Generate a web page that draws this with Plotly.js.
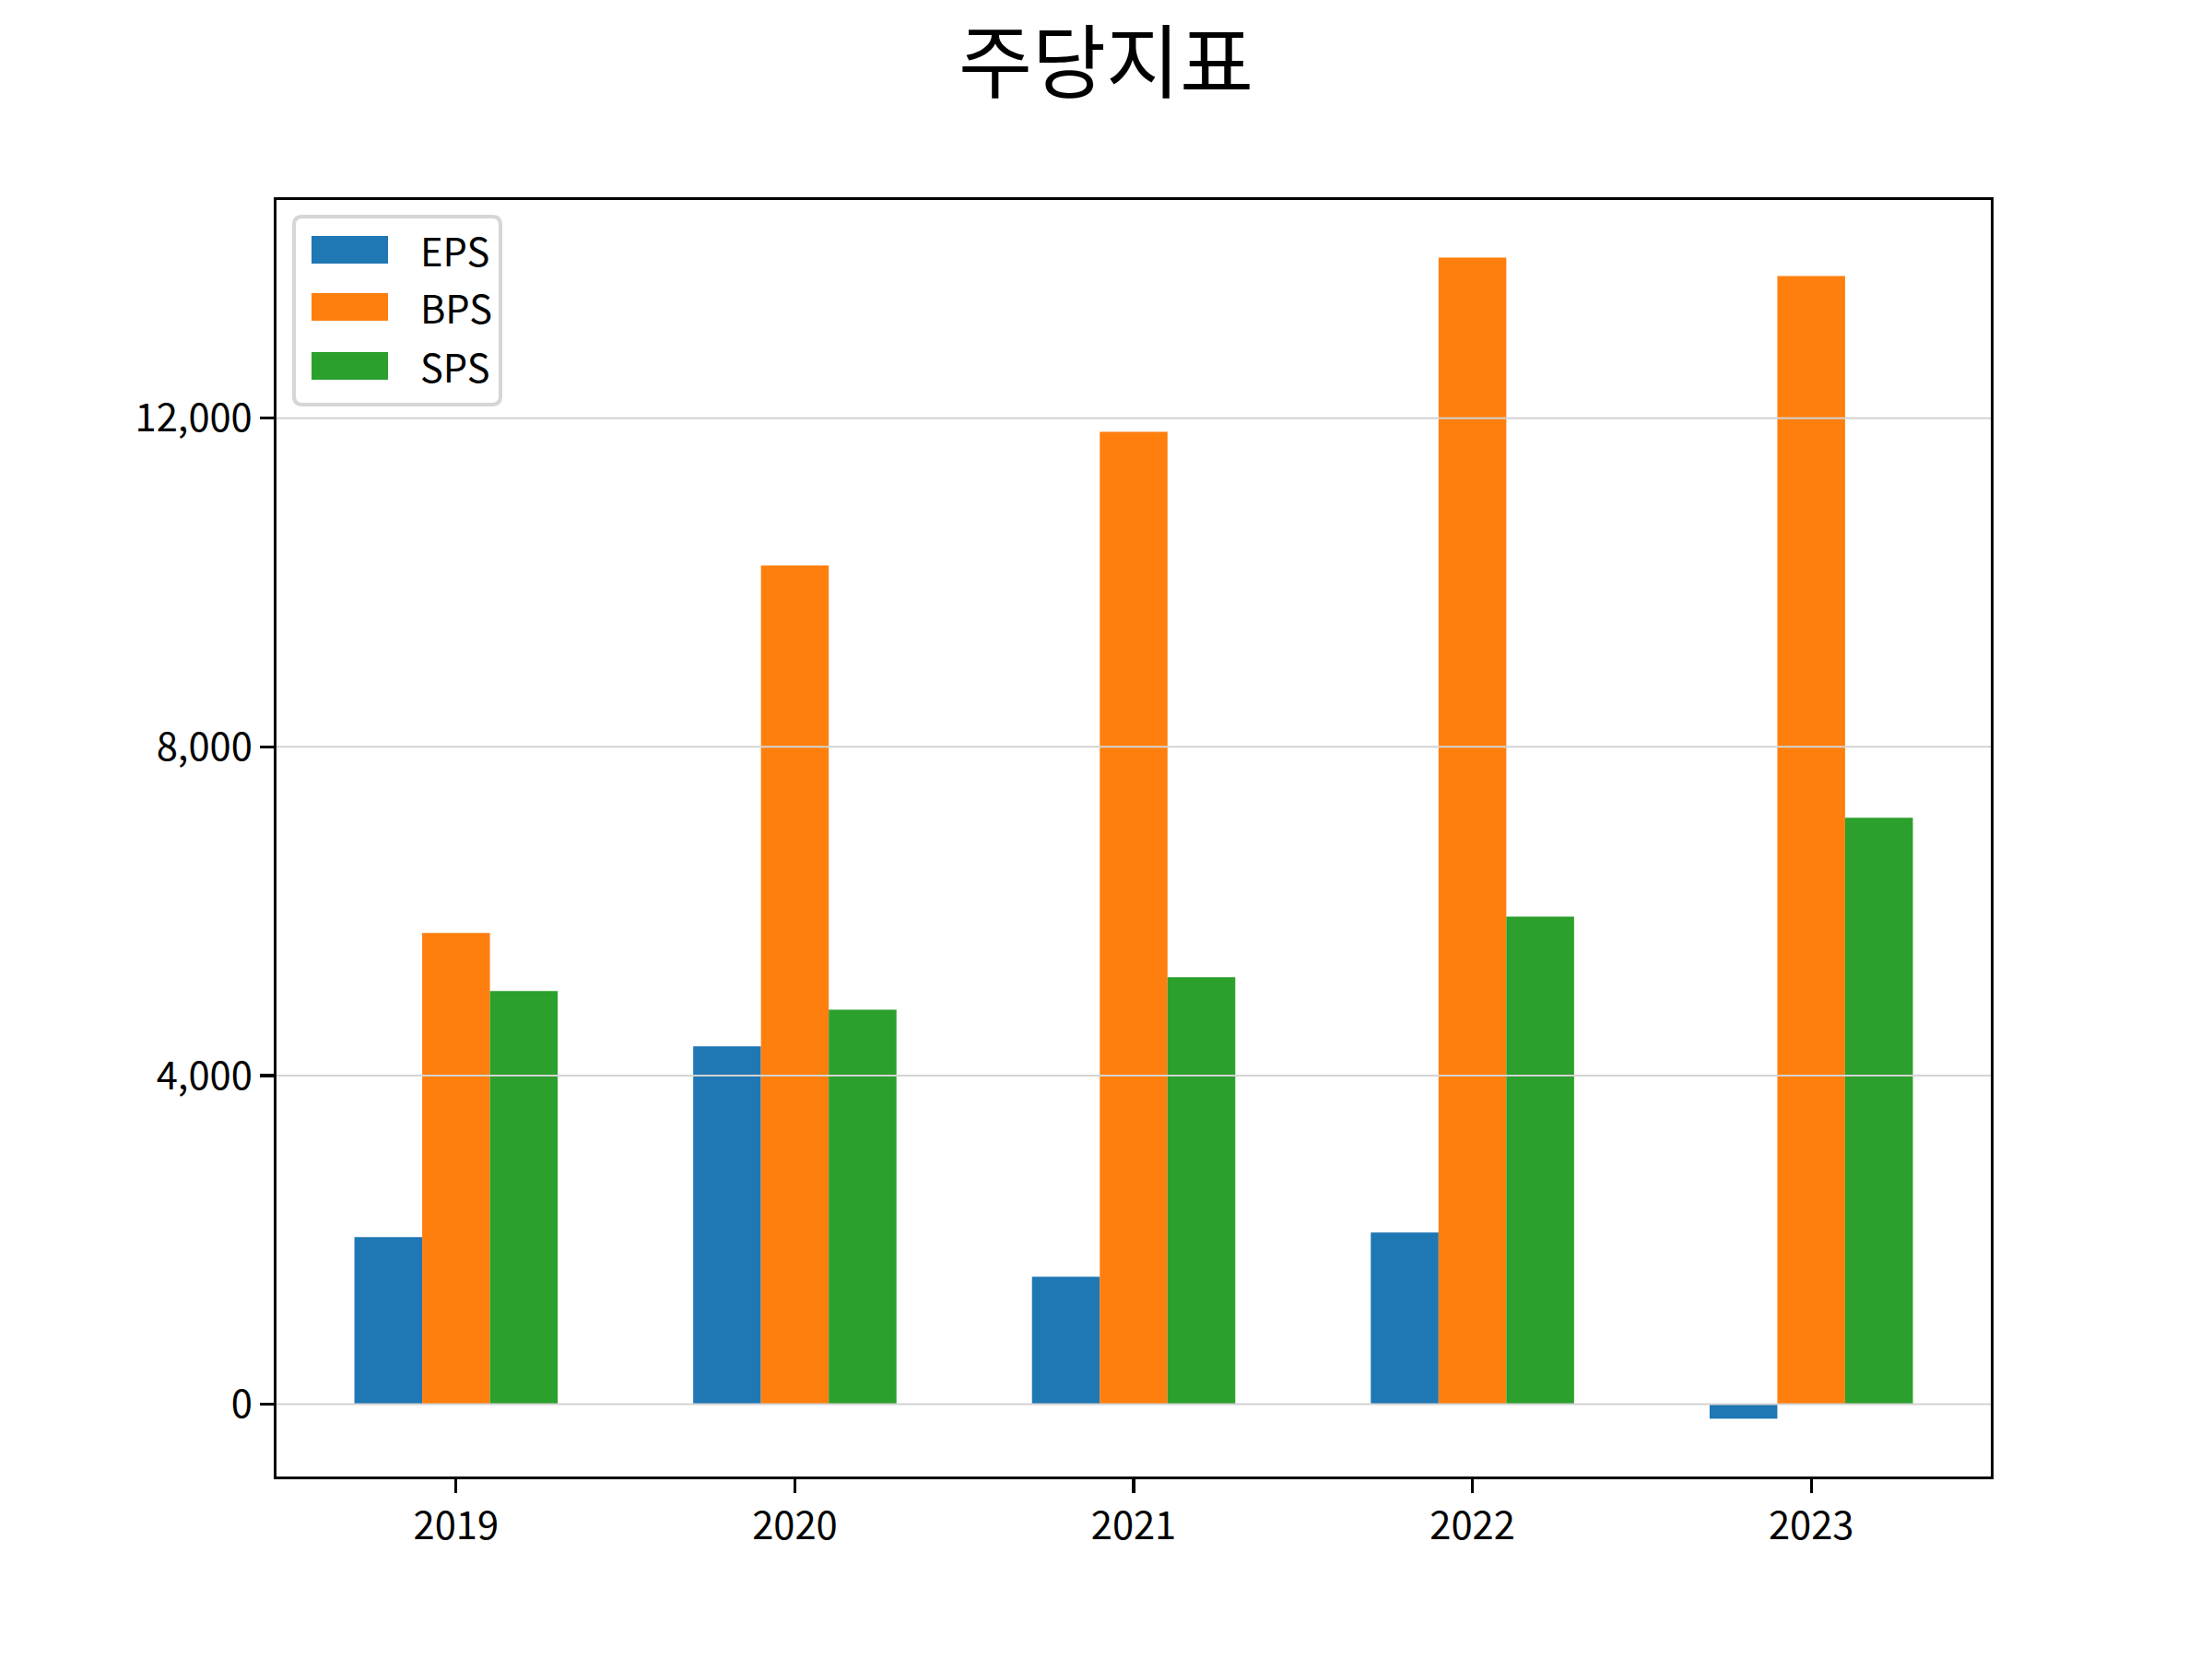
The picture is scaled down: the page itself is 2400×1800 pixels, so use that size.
<!DOCTYPE html>
<html>
<head>
<meta charset="utf-8">
<script src="https://cdn.plot.ly/plotly-3.0.1.min.js"></script>
<style>
  body { margin: 0; background: #fff; }
  #chart { width: 2400px; height: 1800px; }
</style>
</head>
<body>
<div id="chart"></div>
<script>
// values
const years = ['2019', '2020', '2021', '2022', '2023'];
const eps = [2034, 4356, 1550, 2089, -176];
const bps = [5734, 10208, 11834, 13953, 13729];
const sps = [5027, 4802, 5196, 5934, 7137];

const seriesNames = ['EPS', 'BPS', 'SPS'];
const seriesValues = [eps, bps, sps];
const seriesColors = ['#1f77b4', '#ff7f0e', '#2ca02c'];

const yTicks = [0, 4000, 8000, 12000];

const FONT = '"Noto Sans CJK KR", "Noto Sans", sans-serif';
const PT = 300 / 72; // matplotlib points -> pixels at 300 dpi

let traces = [];
for (let i = 0; i < seriesNames.length; i++) {
    traces.push({
        type: 'bar',
        name: seriesNames[i],
        x: years,
        y: seriesValues[i],
        marker: { color: seriesColors[i], line: { width: 0 } },
        showlegend: false
    });
}

// gridlines sit above the bars, like matplotlib's default
let shapes = yTicks.map(v => ({
    type: 'line', layer: 'above',
    xref: 'paper', x0: 0, x1: 1,
    yref: 'y', y0: v, y1: v,
    line: { color: '#d3d3d3', width: 0.8 * PT * 0.6 }
}));

// legend box (pixel offsets from the top-left corner of the plot area)
function roundRect(x0, y0, x1, y1, r) {
    // y grows upward in pixel size mode, so y0 is the top
    return 'M' + (x0 + r) + ',' + y0 +
        ' L' + (x1 - r) + ',' + y0 + ' Q' + x1 + ',' + y0 + ' ' + x1 + ',' + (y0 - r) +
        ' L' + x1 + ',' + (y1 + r) + ' Q' + x1 + ',' + y1 + ' ' + (x1 - r) + ',' + y1 +
        ' L' + (x0 + r) + ',' + y1 + ' Q' + x0 + ',' + y1 + ' ' + x0 + ',' + (y1 + r) +
        ' L' + x0 + ',' + (y0 - r) + ' Q' + x0 + ',' + y0 + ' ' + (x0 + r) + ',' + y0 + ' Z';
}

shapes.push({
    type: 'path', layer: 'above',
    xref: 'paper', yref: 'paper', xsizemode: 'pixel', ysizemode: 'pixel',
    xanchor: 0, yanchor: 1,
    path: roundRect(19, -18, 243, -222, 9),
    fillcolor: 'rgba(255,255,255,0.8)',
    line: { color: '#d6d6d6', width: 4 }
});

let annotations = [];
let rowOffsets = [-54, -116, -180];
for (let i = 0; i < seriesNames.length; i++) {
    let yc = rowOffsets[i];
    shapes.push({
        type: 'rect', layer: 'above',
        xref: 'paper', yref: 'paper', xsizemode: 'pixel', ysizemode: 'pixel',
        xanchor: 0, yanchor: 1,
        x0: 38, x1: 121, y0: yc - 15, y1: yc + 15,
        fillcolor: seriesColors[i],
        line: { width: 0 }
    });
    annotations.push({
        xref: 'paper', yref: 'paper', x: 0, y: 1,
        xanchor: 'left', yanchor: 'middle',
        xshift: 154, yshift: yc,
        text: seriesNames[i], showarrow: false,
        font: { family: FONT, size: 10 * PT, color: '#000' }
    });
}

let layout = {
    width: 2400,
    height: 1800,
    margin: { l: 300, r: 240, t: 217, b: 198, pad: 0 },
    paper_bgcolor: '#fff',
    plot_bgcolor: '#fff',
    font: { family: FONT, size: 10 * PT, color: '#000' },
    title: {
        text: '주당지표',
        font: { family: FONT, size: 87, color: '#000' },
        xref: 'container', x: 0.5, xanchor: 'center',
        yref: 'container', y: 1 - 70 / 1800, yanchor: 'middle'
    },
    barmode: 'group',
    bargap: 0.4,
    bargroupgap: 0,
    xaxis: {
        type: 'category',
        range: [-0.53, 4.53],
        showgrid: false,
        zeroline: false,
        showline: true, mirror: true,
        linecolor: '#000', linewidth: 0.8 * PT,
        ticks: 'outside', ticklen: 3.5 * PT, tickwidth: 0.8 * PT, tickcolor: '#000',
        tickfont: { family: FONT, size: 10 * PT, color: '#000' },
        fixedrange: true
    },
    yaxis: {
        range: [-880, 14655],
        tickvals: yTicks,
        tickformat: ',d',
        showgrid: false,
        zeroline: false,
        showline: true, mirror: true,
        linecolor: '#000', linewidth: 0.8 * PT,
        ticks: 'outside', ticklen: 3.5 * PT, tickwidth: 0.8 * PT, tickcolor: '#000',
        tickfont: { family: FONT, size: 10 * PT, color: '#000' },
        fixedrange: true
    },
    shapes: shapes,
    annotations: annotations
};

Plotly.newPlot('chart', traces, layout, { displayModeBar: false, staticPlot: true });
</script>
</body>
</html>
